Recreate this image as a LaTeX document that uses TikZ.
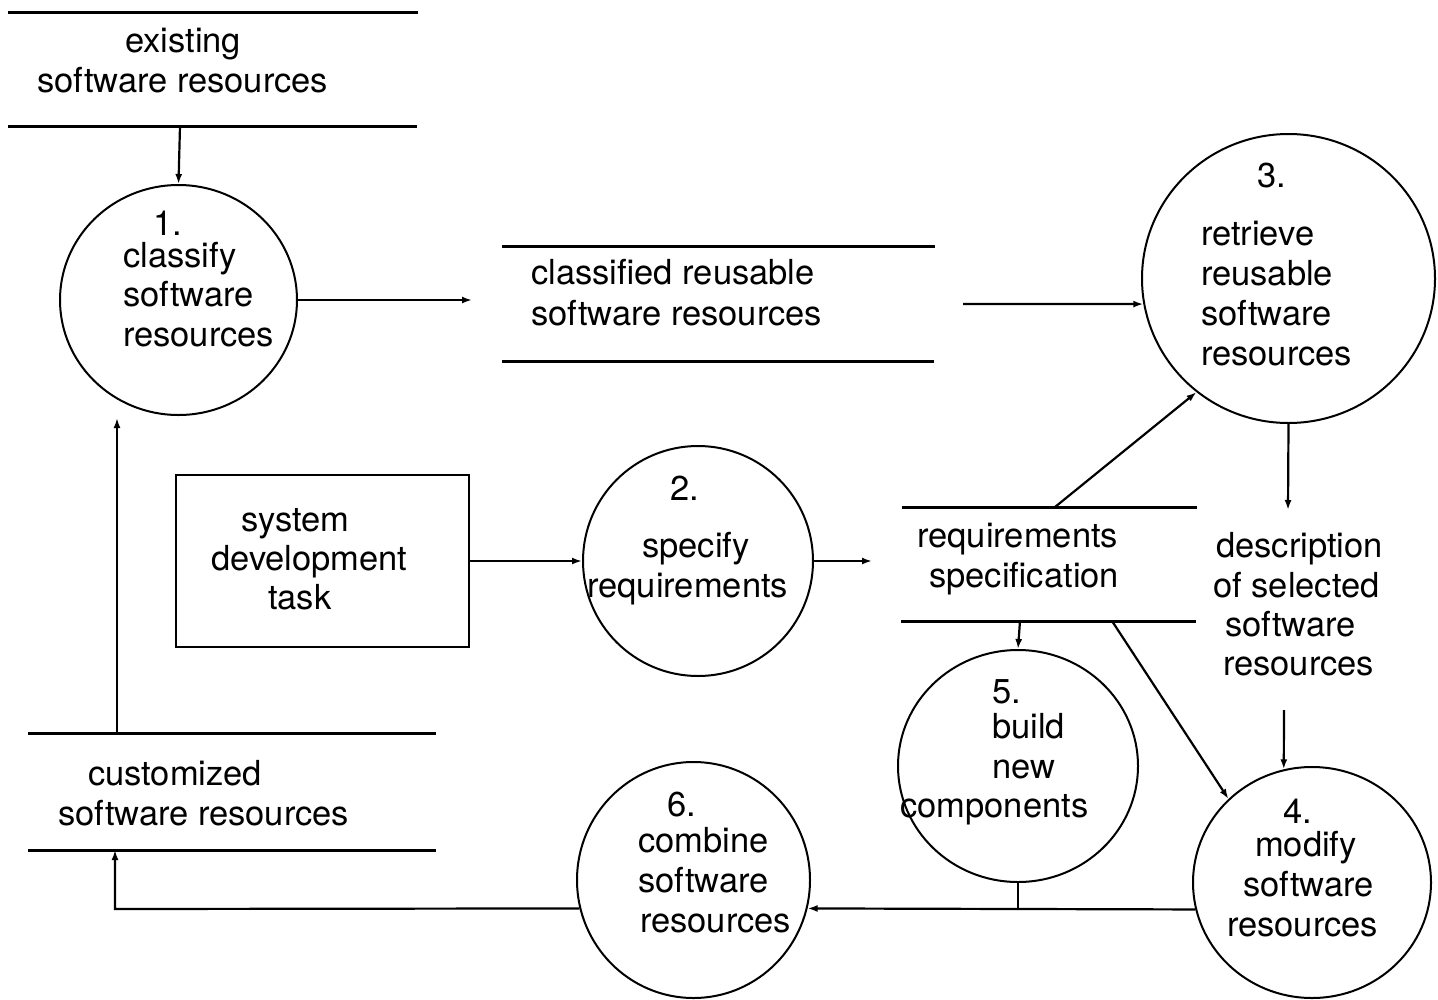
\documentclass[tikz,border=0pt]{standalone}
\usepackage{fontspec}
\setmainfont{TeX Gyre Heros}
\usetikzlibrary{arrows.meta,shapes.geometric}
\tikzset{
  proc/.style={draw, ellipse, line width=2pt, inner sep=0pt},
  storeline/.style={line width=3pt},
  conn/.style={line width=2.2pt, -{Latex[length=10pt,width=7pt]}},
  plain/.style={line width=2.2pt},
  txt/.style={inner sep=0pt, anchor=base west, font=\fontsize{34.5}{40}\selectfont},
  boxst/.style={draw, line width=2pt, minimum width=293pt, minimum height=172pt, inner sep=0pt}
}
\begin{document}
\begin{tikzpicture}[x=1pt,y=-1pt]
\useasboundingbox (0,0) rectangle (1438,999);
\fill[white] (0,0) rectangle (1438,999);

% data stores
\draw[storeline] (8,12) -- (418,12);
\draw[storeline] (8,126) -- (417,126);
\draw[storeline] (502,246) -- (935,246);
\draw[storeline] (502,361) -- (934,361);
\draw[storeline] (902,507) -- (1197,507);
\draw[storeline] (901,621) -- (1196,621);
\draw[storeline] (28,733) -- (436,733);
\draw[storeline] (28,850) -- (436,850);

% processes
\node[proc, minimum width=237pt, minimum height=230pt] (c1) at (178.5,300) {};
\node[proc, minimum width=230pt, minimum height=230pt] (c2) at (698,561) {};
\node[proc, minimum width=293pt, minimum height=289pt] (c3) at (1288.5,278.5) {};
\node[proc, minimum width=238pt, minimum height=231pt] (c4) at (1312,882.5) {};
\node[proc, minimum width=240pt, minimum height=232pt] (c5) at (1018,766) {};
\node[proc, minimum width=233pt, minimum height=236pt] (c6) at (693.5,880) {};
\node[boxst] (task) at (322.5,561) {};

% texts
\node[txt] (s1a) at (125,52) {existing};
\node[txt] (s1b) at (37,92) {software resources};
\node[txt] (p1a) at (153,235) {1.};
\node[txt] (p1b) at (123,267) {classify};
\node[txt] (p1c) at (123,306) {software};
\node[txt] (p1d) at (123,346) {resources};
\node[txt] (s2a) at (531,284) {classified reusable};
\node[txt] (s2b) at (531,325) {software resources};
\node[txt] (p3a) at (1257,187) {3.};
\node[txt] (p3b) at (1201,245) {retrieve};
\node[txt] (p3c) at (1201,285) {reusable};
\node[txt] (p3d) at (1201,325) {software};
\node[txt] (p3e) at (1201,365) {resources};
\node[txt] (ta) at (241,531) {system};
\node[txt] (tb) at (211,570) {development};
\node[txt] (tc) at (268,609) {task};
\node[txt] (p2a) at (670,500) {2.};
\node[txt] (p2b) at (642,557) {specify};
\node[txt] (p2c) at (587,597) {requirements};
\node[txt] (s3a) at (917,547) {requirements};
\node[txt] (s3b) at (929,587) {specification};
\node[txt] (da) at (1216,557) {description};
\node[txt] (db) at (1213,597) {of selected};
\node[txt] (dc) at (1225,636) {software};
\node[txt] (dd) at (1223,675) {resources};
\node[txt] (p5a) at (992,703) {5.};
\node[txt] (p5b) at (992,738) {build};
\node[txt] (p5c) at (992,778) {new};
\node[txt] (p5d) at (900,817) {components};
\node[txt] (p4a) at (1283,823) {4.};
\node[txt] (p4b) at (1255,856) {modify};
\node[txt] (p4c) at (1243,896) {software};
\node[txt] (p4d) at (1227,936) {resources};
\node[txt] (p6a) at (667,816) {6.};
\node[txt] (p6b) at (638,852) {combine};
\node[txt] (p6c) at (638,892) {software};
\node[txt] (p6d) at (640,932) {resources};
\node[txt] (s4a) at (88,785) {customized};
\node[txt] (s4b) at (58,825) {software resources};

% connector end points
\coordinate (k1) at (180,126);
\coordinate (k2) at (472,300);
\coordinate (k3) at (963,304);
\coordinate (k4) at (872,561);
\coordinate (k5) at (1055,507);
\coordinate (k6) at (1288,510);
\coordinate (k7) at (1284,710);
\coordinate (k8) at (1112,621);
\coordinate (k9) at (1020,621);
\coordinate (j1) at (1018,910);
\coordinate (k10) at (115,909);
\coordinate (k11) at (115,850);
\coordinate (k12) at (117,733);
\coordinate (k13) at (117,418);

% connectors
\draw[conn] (k1) -- (c1.north);
\draw[conn] (c1.east) -- (k2);
\draw[conn] (k3) -- (c3.190);
\draw[conn] (task) -- (c2);
\draw[conn] (c2.east) -- (k4);
\draw[conn] (k5) -- (c3.231.5);
\draw[conn] (c3.south) -- (k6);
\draw[conn] (k7) -- (c4.104);
\draw[conn] (k8) -- (c4.135);
\draw[conn] (k9) -- (c5.north);
\draw[plain] (c5.south) -- (j1);
\draw[conn] (c4.193) -- (c6.346);
\draw[conn] (c6.194) -- (k10) -- (k11);
\draw[conn] (k12) -- (k13);
\end{tikzpicture}
\end{document}
